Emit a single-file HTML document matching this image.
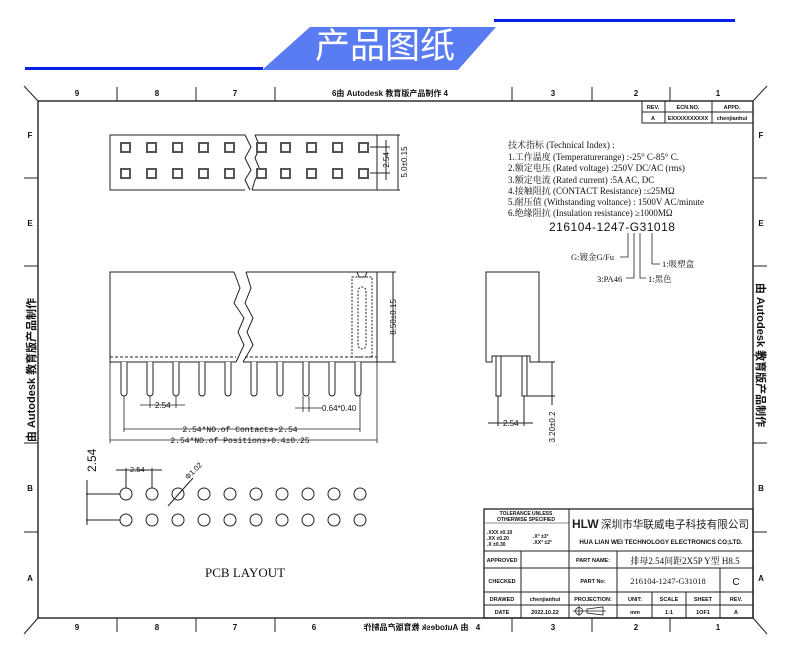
<!DOCTYPE html>
<html><head><meta charset="utf-8">
<style>
html,body{margin:0;padding:0;background:#fff;}
svg{display:block;}
text{font-family:"Liberation Sans","Noto Sans CJK SC",sans-serif;fill:#111;}
.s{font-family:"Liberation Serif","Noto Serif CJK SC",serif;}
.m{font-family:"Liberation Mono","Noto Sans CJK SC",monospace;}
</style></head><body>
<svg width="790" height="663" viewBox="0 0 790 663" xmlns="http://www.w3.org/2000/svg">
<!-- banner -->
<line x1="25" y1="68.5" x2="263" y2="68.5" stroke="#0a1fe8" stroke-width="3"/>
<line x1="494" y1="20.5" x2="735" y2="20.5" stroke="#0a1fe8" stroke-width="3"/>
<polygon points="310,27 496,27 458,70 262,70" fill="#5a7cf2"/>
<text x="385" y="58" font-size="35" text-anchor="middle" style="fill:#fff" font-family="'Noto Sans CJK SC',sans-serif">产品图纸</text>

<g stroke="#222" fill="none" stroke-width="1">
<rect x="38" y="101" width="715" height="517" stroke-width="1.4"/>
<line x1="24" y1="86" x2="38" y2="101"/><line x1="767" y1="86" x2="753" y2="101"/>
<line x1="24" y1="634" x2="38" y2="618"/><line x1="767" y1="634" x2="753" y2="618"/>
<g>
<line x1="117" y1="87" x2="117" y2="101"/><line x1="196" y1="87" x2="196" y2="101"/><line x1="275" y1="87" x2="275" y2="101"/>
<line x1="512" y1="87" x2="512" y2="101"/><line x1="592" y1="87" x2="592" y2="101"/><line x1="670" y1="87" x2="670" y2="101"/>
<line x1="117" y1="618" x2="117" y2="632"/><line x1="196" y1="618" x2="196" y2="632"/><line x1="275" y1="618" x2="275" y2="632"/>
<line x1="512" y1="618" x2="512" y2="632"/><line x1="592" y1="618" x2="592" y2="632"/><line x1="670" y1="618" x2="670" y2="632"/>
</g>
<g>
<line x1="24" y1="178" x2="38" y2="178"/><line x1="24" y1="266" x2="38" y2="266"/><line x1="24" y1="443" x2="38" y2="443"/><line x1="24" y1="532" x2="38" y2="532"/>
<line x1="753" y1="178" x2="767" y2="178"/><line x1="753" y1="266" x2="767" y2="266"/><line x1="753" y1="355" x2="767" y2="355"/><line x1="753" y1="443" x2="767" y2="443"/><line x1="753" y1="532" x2="767" y2="532"/>
</g>
</g>
<g font-size="8" font-weight="bold" text-anchor="middle">
<text x="77" y="96">9</text><text x="157" y="96">8</text><text x="235" y="96">7</text>
<text x="390" y="96">6由 Autodesk 教育版产品制作  4</text>
<text x="553" y="96">3</text><text x="636" y="96">2</text><text x="718" y="96">1</text>
<text x="77" y="630">9</text><text x="157" y="630">8</text><text x="235" y="630">7</text>
<text x="553" y="630">3</text><text x="636" y="630">2</text><text x="718" y="630">1</text>
<text x="314" y="630">6</text><text x="478" y="630">4</text>
<text transform="translate(416,630) scale(-1,1)" x="0" y="0">由 Autodesk 教育版产品制作</text>
<text x="30" y="138">F</text><text x="30" y="226">E</text><text x="30" y="491">B</text><text x="30" y="581">A</text>
<text x="761" y="138">F</text><text x="761" y="226">E</text><text x="761" y="491">B</text><text x="761" y="581">A</text>
</g>
<text transform="translate(35,370) rotate(-90)" font-size="11" font-weight="bold" text-anchor="middle">由 Autodesk 教育版产品制作</text>
<text transform="translate(757,355) rotate(90)" font-size="11" font-weight="bold" text-anchor="middle">由 Autodesk 教育版产品制作</text>

<!-- REV table -->
<g stroke="#222" fill="none" stroke-width="1">
<rect x="642" y="101" width="111" height="22"/><line x1="642" y1="112" x2="753" y2="112"/>
<line x1="665" y1="101" x2="665" y2="123"/><line x1="712" y1="101" x2="712" y2="123"/>
</g>
<g font-size="5.5" font-weight="bold" text-anchor="middle">
<text x="653" y="109">REV.</text><text x="688" y="109">ECN.NO.</text><text x="732" y="109">APPD.</text>
<text x="653" y="120">A</text><text x="688" y="120">EXXXXXXXXXX</text><text x="732" y="120">chenjianhui</text>
</g>

<!-- Top view -->
<g stroke="#222" fill="none" stroke-width="1">
<polyline points="245,135 110,135 110,190 245,190"/>
<polyline points="245,135 251,147 245,158 251,170 245,180 250,190"/>
<polyline points="255,135 377,135 377,190 252,190"/>
<polyline points="255,135 260,147 255,158 260,170 255,180 252,190"/>
<line x1="377" y1="135" x2="400" y2="135"/><line x1="377" y1="190" x2="400" y2="190"/>
<line x1="370" y1="147" x2="390" y2="147"/><line x1="370" y1="173" x2="390" y2="173"/>
<line x1="386" y1="140" x2="386" y2="180"/><line x1="398" y1="135" x2="398" y2="190"/>
</g>
<g fill="#fff" stroke="#555" stroke-width="2">
<g id="sq"><rect x="121" y="143" width="9" height="9"/><rect x="121" y="169" width="9" height="9"/></g>
<use href="#sq" x="26"/><use href="#sq" x="52"/><use href="#sq" x="78"/><use href="#sq" x="104"/>
<use href="#sq" x="136"/><use href="#sq" x="160"/><use href="#sq" x="186"/><use href="#sq" x="212"/><use href="#sq" x="238"/>
</g>
<text transform="translate(389,160) rotate(-90)" font-size="8" text-anchor="middle">2.54</text>
<text transform="translate(407,162) rotate(-90)" font-size="8" text-anchor="middle">5.0±0.15</text>

<!-- Front view -->
<g stroke="#222" fill="none" stroke-width="1">
<polyline points="234,272 110,272 110,362 236,362"/>
<polyline points="234,272 240,288 234,303 244,318 238,332 244,345 236,362"/>
<polyline points="246,272 377,272 377,362 243,362"/>
<polyline points="246,272 251,288 245,303 253,318 247,332 253,345 243,362"/>
<line x1="110" y1="357" x2="236" y2="357" stroke-dasharray="3,2"/>
<line x1="245" y1="357" x2="377" y2="357" stroke-dasharray="3,2"/>
<rect x="352" y="277" width="20" height="80" stroke-dasharray="2,1.5"/>
<path d="M358,345 V291 a4,4 0 0 1 8,0 V345 a4,4 0 0 1 -8,0" stroke-dasharray="2,1.5"/>
<path d="M357,272 l2,5 h6 l2,-5"/>
<line x1="377" y1="272" x2="396" y2="272"/><line x1="377" y1="362" x2="396" y2="362"/>
<line x1="393" y1="272" x2="393" y2="362"/>
</g>
<g fill="#fff" stroke="#222" stroke-width="1">
<g id="pin"><path d="M121,362 V393 a3,3 0 0 0 6,0 V362"/></g>
<use href="#pin" x="26"/><use href="#pin" x="52"/><use href="#pin" x="78"/><use href="#pin" x="104"/><use href="#pin" x="130"/><use href="#pin" x="156"/><use href="#pin" x="182"/><use href="#pin" x="208"/><use href="#pin" x="234"/>
</g>
<text transform="translate(396,317) rotate(-90)" font-size="8" text-anchor="middle">8.50±0.15</text>
<g stroke="#222" fill="none" stroke-width="0.8">
<line x1="150" y1="396" x2="150" y2="408"/><line x1="176" y1="396" x2="176" y2="408"/>
<line x1="140" y1="405" x2="185" y2="405"/>
<line x1="303" y1="396" x2="303" y2="412"/><line x1="309" y1="396" x2="309" y2="412"/>
<line x1="295" y1="408" x2="322" y2="408"/>
<line x1="124" y1="396" x2="124" y2="432"/><line x1="360" y1="396" x2="360" y2="432"/>
<line x1="124" y1="429" x2="360" y2="429"/>
<line x1="110" y1="362" x2="110" y2="443"/><line x1="377" y1="362" x2="377" y2="443"/>
<line x1="110" y1="440" x2="377" y2="440"/>
</g>
<g font-size="8">
<text x="155" y="408">2.54</text>
<text x="322" y="411">0.64*0.40</text>
<text x="240" y="432" text-anchor="middle" class="m">2.54*NO.of Contacts-2.54</text>
<text x="240" y="443" text-anchor="middle" class="m">2.54*NO.of Positions+0.4±0.25</text>
</g>

<!-- side view -->
<g stroke="#222" fill="none" stroke-width="1">
<path d="M486,362 V272 H539 V362 H530 V356 H523 M496,356 H492 V362 H486"/>
<line x1="496" y1="356" x2="523" y2="356"/>
<rect x="496" y="356" width="5" height="40" fill="#fff"/>
<rect x="522" y="356" width="5" height="40" fill="#fff"/>
<line x1="539" y1="362" x2="555" y2="362"/><line x1="527" y1="396" x2="555" y2="396"/>
<line x1="552" y1="362" x2="552" y2="405"/>
<line x1="498" y1="396" x2="498" y2="426"/><line x1="524" y1="396" x2="524" y2="426"/>
<line x1="488" y1="423" x2="533" y2="423"/>
</g>
<text x="503" y="426" font-size="8">2.54</text>
<text transform="translate(555,427) rotate(-90)" font-size="8" text-anchor="middle">3.20±0.2</text>

<!-- spec -->
<g font-size="9" class="s">
<text x="508" y="148" class="s">技术指标 (Technical Index) :</text>
<text x="508" y="160" class="s">1.工作温度 (Temperaturerange) :-25° C-85° C.</text>
<text x="508" y="171" class="s">2.额定电压 (Rated voltage) :250V DC/AC (rms)</text>
<text x="508" y="183" class="s">3.额定电流 (Rated current) :5A AC, DC</text>
<text x="508" y="194" class="s">4.接触阻抗 (CONTACT Resistance) :≤25MΩ</text>
<text x="508" y="205" class="s">5.耐压值 (Withstanding voltance) : 1500V AC/minute</text>
<text x="508" y="216" class="s">6.绝缘阻抗 (Insulation resistance) ≥1000MΩ</text>
</g>
<text x="549" y="231" font-size="12" letter-spacing="0.5">216104-1247-G31018</text>
<g stroke="#222" fill="none" stroke-width="0.8">
<polyline points="628,233 628,257 620,257"/>
<polyline points="634,233 634,278 626,278"/>
<polyline points="640,233 640,278 646,278"/>
<polyline points="652,233 652,264 660,264"/>
</g>
<g font-size="8.5" class="s">
<text x="571" y="260" class="s">G:镀金G/Fu</text>
<text x="597" y="282" class="s">3:PA46</text>
<text x="648" y="282" class="s">1:黑色</text>
<text x="662" y="267" class="s">1:吸塑盒</text>
</g>

<!-- PCB -->
<g stroke="#222" fill="none" stroke-width="1">
<g id="hole"><circle cx="126" cy="494" r="6"/><circle cx="126" cy="520" r="6"/></g>
<use href="#hole" x="26"/><use href="#hole" x="52"/><use href="#hole" x="78"/><use href="#hole" x="104"/><use href="#hole" x="130"/><use href="#hole" x="156"/><use href="#hole" x="182"/><use href="#hole" x="208"/><use href="#hole" x="234"/>
<line x1="86" y1="494" x2="120" y2="494"/><line x1="86" y1="520" x2="120" y2="520"/>
<line x1="87" y1="480" x2="87" y2="525"/>
<line x1="126" y1="468" x2="126" y2="488"/><line x1="152" y1="468" x2="152" y2="488"/>
<line x1="116" y1="470" x2="162" y2="470"/>
<line x1="168" y1="506" x2="193" y2="478"/>
</g>
<text transform="translate(96,472) rotate(-90)" font-size="12">2.54</text>
<text x="130" y="472" font-size="7.5">2.54</text>
<text transform="translate(188,480) rotate(-45)" font-size="7.5">Φ1.02</text>
<text x="205" y="577" font-size="13" class="s">PCB LAYOUT</text>

<!-- Title block -->
<g stroke="#222" fill="none" stroke-width="1">
<rect x="484" y="509" width="269" height="109" stroke-width="1.3"/>
<line x1="484" y1="523" x2="569" y2="523" stroke-width="0.6"/>
<line x1="484" y1="551" x2="753" y2="551"/>
<line x1="484" y1="568" x2="753" y2="568"/>
<line x1="484" y1="592" x2="753" y2="592"/>
<line x1="484" y1="605" x2="753" y2="605"/>
<line x1="569" y1="509" x2="569" y2="618"/>
<line x1="521" y1="551" x2="521" y2="618"/>
<line x1="617" y1="551" x2="617" y2="618"/>
<line x1="652" y1="592" x2="652" y2="618"/>
<line x1="686" y1="592" x2="686" y2="618"/>
<line x1="720" y1="568" x2="720" y2="618"/>
</g>
<g font-size="5" font-weight="bold">
<text x="526" y="515" text-anchor="middle">TOLERANCE UNLESS</text>
<text x="526" y="521" text-anchor="middle">OTHERWISE SPECIFIED</text>
<text x="487" y="534">.XXX ±0.10</text><text x="487" y="540">.XX  ±0.20</text><text x="487" y="546">.X   ±0.30</text>
<text x="533" y="538">.X°  ±3°</text><text x="533" y="544">.XX° ±2°</text>
</g>
<text x="572" y="528" font-size="12" font-weight="bold" style="fill:#222">HLW</text>
<text x="601" y="528" font-size="11" style="fill:#222" textLength="148" lengthAdjust="spacingAndGlyphs" font-family="'Noto Serif CJK SC',serif">深圳市华联威电子科技有限公司</text>
<text x="661" y="544" font-size="6.3" font-weight="bold" text-anchor="middle">HUA LIAN WEI TECHNOLOGY ELECTRONICS CO;LTD.</text>
<g font-size="5.5" font-weight="bold" text-anchor="middle">
<text x="502" y="562">APPROVED</text>
<text x="502" y="583">CHECKED</text>
<text x="502" y="601">DRAWED</text>
<text x="502" y="614">DATE</text>
<text x="593" y="562">PART NAME:</text>
<text x="593" y="583">PART No:</text>
<text x="593" y="601">PROJECTION:</text>
<text x="545" y="601">chenjianhui</text>
<text x="545" y="614">2022.10.22</text>
<text x="635" y="601">UNIT:</text><text x="669" y="601">SCALE</text><text x="703" y="601">SHEET</text><text x="736" y="601">REV.</text>
<text x="635" y="614">mm</text><text x="669" y="614">1:1</text><text x="703" y="614">1OF1</text><text x="736" y="614">A</text>
</g>
<text x="685" y="564" font-size="9" text-anchor="middle" class="s">排母2.54间距2X5P Y型 H8.5</text>
<text x="668" y="584" font-size="8.5" text-anchor="middle" class="s">216104-1247-G31018</text>
<text x="736" y="585" font-size="10" text-anchor="middle">C</text>
<g stroke="#222" fill="none" stroke-width="0.8">
<circle cx="579" cy="611" r="3.5"/><line x1="573" y1="611" x2="585" y2="611"/><line x1="579" y1="606" x2="579" y2="616"/>
<polygon points="587,609 603,607 603,615 587,613"/><line x1="585" y1="611" x2="606" y2="611"/>
</g>
</svg>
</body></html>
